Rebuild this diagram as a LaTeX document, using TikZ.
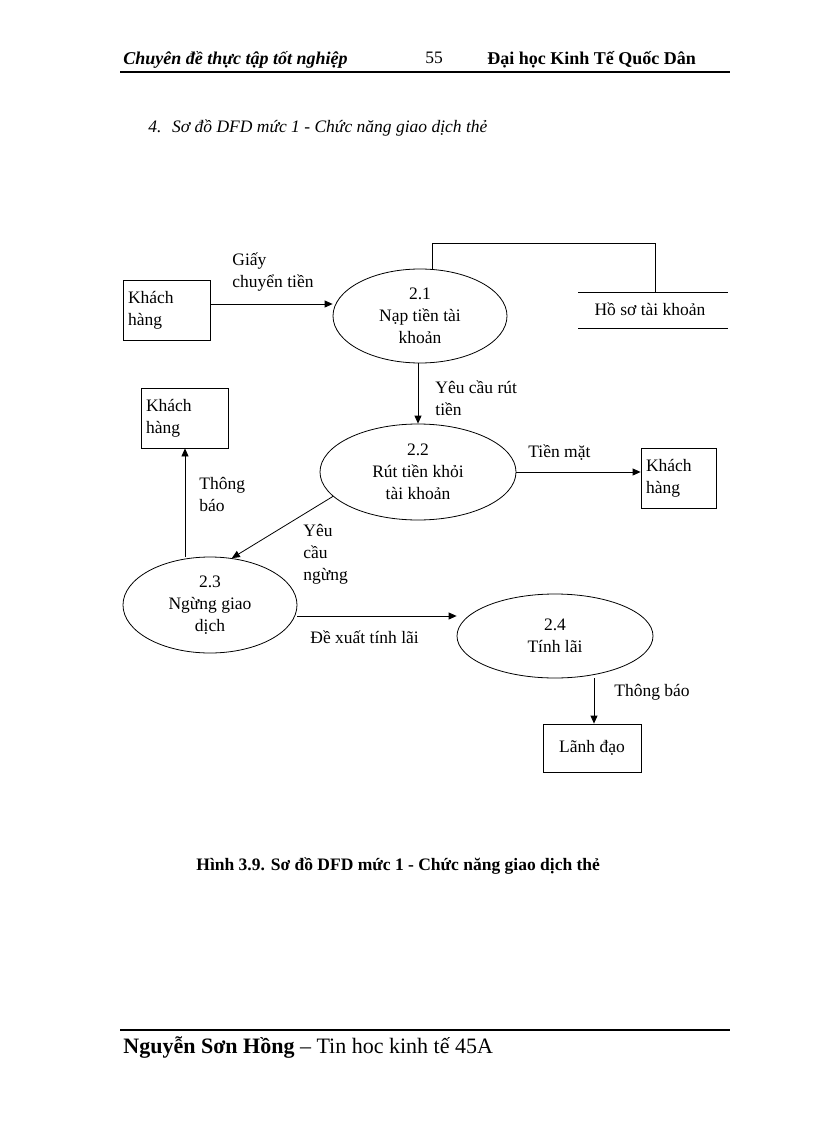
\documentclass[tikz,border=0pt]{standalone}
\usepackage{fontspec}
\setmainfont{Liberation Serif}
\usetikzlibrary{arrows.meta, positioning, shapes.geometric}
\tikzset{proc/.style={draw, ellipse, inner sep=0pt, align=center, font=\fontsize{17.5}{22}\selectfont}}
\tikzset{ent/.style={draw, rectangle, inner sep=0pt, align=left, font=\fontsize{17.5}{22}\selectfont}}
\tikzset{lbl/.style={anchor=west, align=left, inner sep=0pt, font=\fontsize{17.5}{22}\selectfont}}
\tikzset{flow/.style={-{Triangle[length=8pt,width=7pt]}, line width=0.8pt}}
\begin{document}
\begin{tikzpicture}[x=1pt, y=-1pt, line width=0.8pt]
    \useasboundingbox[fill=white] (0,0) rectangle (816,1123);

    % header and footer
    \node [lbl, font=\fontsize{18}{21}\selectfont\bfseries\itshape] (hd1) at (123,60) {Chuyên đề thực tập tốt nghiệp};
    \node [lbl, font=\fontsize{17.5}{21}\selectfont] (hd2) at (425,58) {55};
    \node [lbl, font=\fontsize{18}{21}\selectfont\bfseries] (hd3) at (487,60) {Đại học Kinh  Tế Quốc Dân};
    \draw [line width=1.5pt] (120,72) -- (730,72);
    \node [lbl, font=\fontsize{17.5}{21}\selectfont\itshape] (ttl) at (148,128) {4.\; Sơ đồ DFD mức 1 - Chức năng giao dịch thẻ};
    \node [lbl, font=\fontsize{17.5}{21}\selectfont\bfseries] (cap) at (196,866) {Hình 3.9. Sơ đồ DFD mức 1 - Chức năng giao  dịch thẻ};
    \draw [line width=1.5pt] (120,1030) -- (730,1030);
    \node [lbl, font=\fontsize{22}{26}\selectfont] (ft) at (123,1048) {\textbf{Nguyễn Sơn Hồng} -- Tin hoc kinh tế 45A};

    % processes
    \node [proc, minimum width=174pt, minimum height=94pt] (P1) at (420,316) {2.1\\Nạp tiền tài\\khoản};
    \node [proc, minimum width=196pt, minimum height=96pt] (P2) at (418,472) {2.2\\Rút tiền khỏi\\tài khoản};
    \node [proc, minimum width=174pt, minimum height=96pt] (P3) at (210,605) {2.3\\Ngừng giao\\dịch};
    \node [proc, minimum width=196pt, minimum height=84pt] (P4) at (555,636) {2.4\\Tính lãi};

    % entities
    \node [ent, minimum width=87pt, minimum height=60pt, text width=77pt] (K1) at (166.5,310) {Khách\\hàng};
    \node [ent, minimum width=87pt, minimum height=60pt, text width=77pt] (K2) at (184.5,418) {Khách\\hàng};
    \node [ent, minimum width=75pt, minimum height=60pt, text width=65pt] (K3) at (678.5,478) {Khách\\hàng};
    \node [ent, minimum width=98pt, minimum height=48pt, align=center] (LD) at (592,748) {Lãnh đạo};

    % data store
    \node [font=\fontsize{17.5}{21}\selectfont] (DS) at (650,309) {Hồ sơ tài khoản};
    \draw (578,292) -- (728,292);
    \draw (578,328) -- (728,328);
    \coordinate (s1) at (432,243);
    \coordinate (s2) at (655,243);
    \coordinate (s3) at (655,292);
    \draw (P1.north -| s1) -- (s1) -- (s2) -- (s3);

    % flows
    \draw [flow] (K1.east |- 0,304) -- (P1.west |- 0,304);
    \node [lbl] at (232,272) {Giấy\\chuyển tiền};
    \draw [flow] (P1.south -| 418,0) -- (P2.north);
    \node [lbl] at (435,398) {Yêu cầu rút\\tiền};
    \draw [flow] (P2.east) -- (K3.west |- P2.east);
    \node [lbl] at (528,453) {Tiền mặt};
    \draw [flow] (P2.-164) -- (P3.65);
    \node [lbl] at (303,554) {Yêu\\cầu\\ngừng};
    \draw [flow] (P3.north -| 185,0) -- (K2.south -| 185,0);
    \node [lbl] at (199,494) {Thông\\báo};
    \draw [flow] (P3.east |- 0,616) -- (P4.west |- 0,616);
    \node [lbl] at (310,637) {Đề xuất tính lãi};
    \draw [flow] (P4.south -| 594,0) -- (LD.north -| 594,0);
    \node [lbl] at (614,692) {Thông báo};
\end{tikzpicture}
\end{document}
